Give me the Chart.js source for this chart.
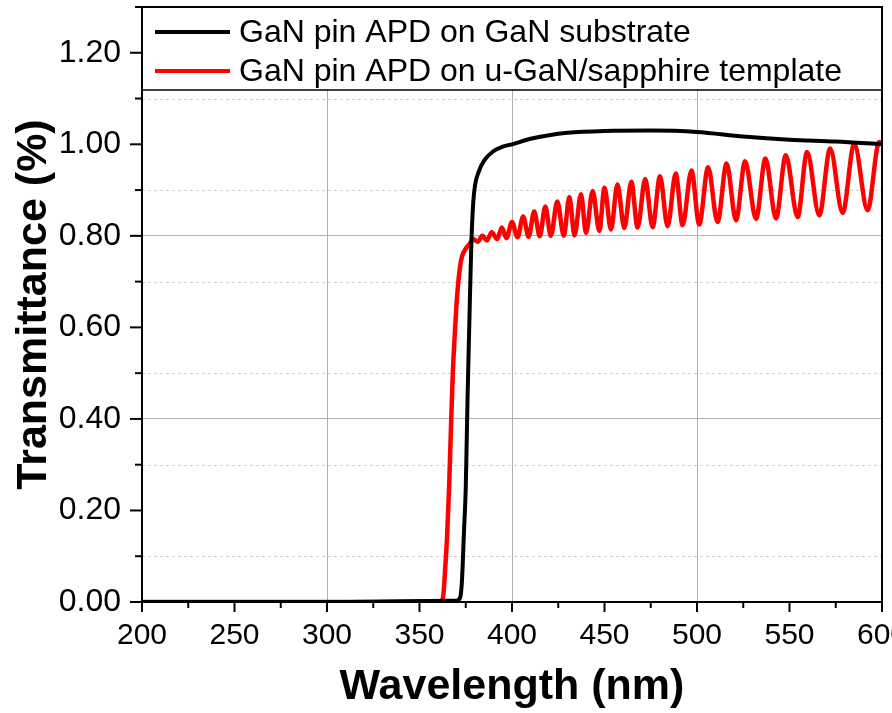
<!DOCTYPE html>
<html>
<head>
<meta charset="utf-8">
<script src="https://cdn.jsdelivr.net/npm/chart.js@4.4.1/dist/chart.umd.min.js"></script>
<style>
  html, body { margin: 0; padding: 0; background: #fff; overflow: hidden; }
  .wrap { position: relative; width: 892px; height: 713px; }
</style>
</head>
<body>
<div class="wrap"><canvas id="grafico"></canvas></div>
<script>
// series names / colours
const serieNomes = ["GaN pin APD on GaN substrate", "GaN pin APD on u-GaN/sapphire template"];
const serieCores = ["#000000", "#ff0000"];

// ticks (major labelled, minor empty)
const xTicks = [200, 225, 250, 275, 300, 325, 350, 375, 400, 425, 450, 475, 500, 525, 550, 575, 600];
const xRotulos = ["200", "", "250", "", "300", "", "350", "", "400", "", "450", "", "500", "", "550", "", "600"];
const yTicks = [0, 0.1, 0.2, 0.3, 0.4, 0.5, 0.6, 0.7, 0.8, 0.9, 1.0, 1.1, 1.2, 1.3];
const yRotulos = ["0.00", "", "0.20", "", "0.40", "", "0.60", "", "0.80", "", "1.00", "", "1.20", ""];

// GaN substrate (black)
const substratoX = [200, 300, 370, 372, 373, 374, 375, 376, 377, 378, 379, 380, 382, 385, 390, 395, 400,
  410, 420, 430, 450, 475, 500, 525, 550, 575, 600];
const substratoY = [0, 0, 0.003, 0.01, 0.05, 0.15, 0.25, 0.45, 0.62, 0.78, 0.87, 0.91, 0.94, 0.965, 0.985, 0.995, 1.0,
  1.012, 1.02, 1.025, 1.029, 1.03, 1.027, 1.017, 1.01, 1.006, 1.0];

// u-GaN / sapphire template (red) - edge, then fringe peaks and troughs
const templateX = [200, 300, 362, 363, 364, 365, 366, 367, 368, 369, 370, 371, 372, 373, 375, 377,
  379, 381.5, 384, 386.5, 389, 392, 394.5, 397, 400, 403, 406, 409, 412, 415, 418, 421, 424.5, 428,
  431, 433.8, 437.3, 440, 443.6, 447.2, 450, 453.5, 457, 460.7, 464.5, 467.9, 472, 476, 480, 484.1,
  488.5, 492.2, 497, 501.2, 506, 511.1, 516, 521.1, 526, 531.9, 537, 542.7, 548, 554.4, 559.5, 566.1,
  572, 578.7, 585, 592.2, 598.5, 600];
const templateY = [0, 0, 0.002, 0.02, 0.08, 0.15, 0.25, 0.38, 0.5, 0.58, 0.65, 0.7, 0.735, 0.755, 0.772, 0.782,
  0.793, 0.787, 0.8, 0.79, 0.808, 0.793, 0.818, 0.795, 0.83, 0.797, 0.842, 0.798, 0.853, 0.799, 0.864, 0.8, 0.875, 0.8,
  0.885, 0.801, 0.891, 0.806, 0.898, 0.811, 0.905, 0.814, 0.912, 0.817, 0.918, 0.818, 0.924, 0.819, 0.93, 0.821,
  0.936, 0.823, 0.943, 0.825, 0.95, 0.83, 0.958, 0.834, 0.963, 0.837, 0.969, 0.838, 0.976, 0.841, 0.983, 0.845,
  0.991, 0.85, 1.001, 0.856, 1.005, 1.0];

const fonte = "'Liberation Sans', Arial, sans-serif";

function pontos(xs, ys) {
  return xs.map((x, i) => ({ x, y: ys[i] }));
}

const moldura = {
  id: "moldura",
  beforeDatasetsDraw(chart) {
    const { ctx, chartArea: a, scales } = chart;
    ctx.save();
    ctx.strokeStyle = "#cfcfcf";
    ctx.lineWidth = 1;
    ctx.setLineDash([3, 3]);
    yTicks.forEach((v, i) => {
      if (yRotulos[i] || i === yTicks.length - 1) return;
      const y = Math.round(scales.y.getPixelForValue(v)) + 0.5;
      ctx.beginPath();
      ctx.moveTo(a.left, y);
      ctx.lineTo(a.right, y);
      ctx.stroke();
    });
    ctx.restore();
  },
  afterDraw(chart) {
    const { ctx, chartArea: a, scales } = chart;
    ctx.save();

    // legend box over the top of the plot
    const altura = 83;
    ctx.fillStyle = "#fff";
    ctx.fillRect(a.left, a.top, a.right - a.left, altura);
    ctx.strokeStyle = "#000";
    ctx.lineWidth = 1.5;
    ctx.strokeRect(a.left, a.top, a.right - a.left, altura);

    ctx.font = "32px " + fonte;
    ctx.textBaseline = "middle";
    ctx.textAlign = "left";
    serieNomes.forEach((nome, i) => {
      const y = a.top + 25 + i * 39;
      ctx.strokeStyle = serieCores[i];
      ctx.lineWidth = 4;
      ctx.beginPath();
      ctx.moveTo(a.left + 13, y);
      ctx.lineTo(a.left + 88, y);
      ctx.stroke();
      ctx.fillStyle = "#000";
      ctx.fillText(nome, a.left + 97, y + 1);
    });

    // frame
    ctx.strokeStyle = "#000";
    ctx.lineWidth = 2;
    ctx.strokeRect(a.left, a.top, a.right - a.left, a.bottom - a.top);

    // outward tick marks
    xTicks.forEach((v, i) => {
      const x = scales.x.getPixelForValue(v);
      const len = xRotulos[i] ? 10 : 6;
      ctx.beginPath();
      ctx.moveTo(x, a.bottom);
      ctx.lineTo(x, a.bottom + len);
      ctx.stroke();
    });
    yTicks.forEach((v, i) => {
      const y = scales.y.getPixelForValue(v);
      const len = yRotulos[i] ? 12 : 7;
      ctx.beginPath();
      ctx.moveTo(a.left, y);
      ctx.lineTo(a.left - len, y);
      ctx.stroke();
    });
    ctx.restore();
  }
};

new Chart(document.getElementById("grafico"), {
  type: "line",
  data: {
    datasets: [
      {
        label: serieNomes[0],
        data: pontos(substratoX, substratoY),
        borderColor: serieCores[0],
        borderWidth: 4,
        pointRadius: 0,
        cubicInterpolationMode: "monotone"
      },
      {
        label: serieNomes[1],
        data: pontos(templateX, templateY),
        borderColor: serieCores[1],
        borderWidth: 4.5,
        pointRadius: 0,
        cubicInterpolationMode: "monotone"
      }
    ]
  },
  options: {
    responsive: true,
    maintainAspectRatio: false,
    animation: false,
    layout: { padding: { top: 7, left: 0, right: 10, bottom: 0 } },
    plugins: { legend: { display: false }, tooltip: { enabled: false } },
    scales: {
      x: {
        type: "linear",
        min: 200,
        max: 600,
        afterBuildTicks: (s) => { s.ticks = xTicks.map((v) => ({ value: v })); },
        afterFit: (s) => { s.paddingLeft = 0; s.paddingRight = 0; s.height = 111; },
        border: { display: false },
        grid: {
          color: (c) => (c.index !== undefined && xRotulos[c.index] ? "#b0b0b0" : "transparent"),
          lineWidth: 1,
          tickLength: 10,
          tickColor: "transparent"
        },
        ticks: {
          autoSkip: false,
          maxRotation: 0,
          padding: 6,
          color: "#000",
          font: { family: fonte, size: 30 },
          callback: (v, i) => xRotulos[i] || null
        },
        title: {
          display: true,
          text: "Wavelength (nm)",
          color: "#000",
          font: { family: fonte, size: 43, weight: "bold" },
          padding: { top: 0, bottom: 0 }
        }
      },
      y: {
        type: "linear",
        min: 0,
        max: 1.3,
        afterBuildTicks: (s) => { s.ticks = yTicks.map((v) => ({ value: v })); },
        afterFit: (s) => { s.paddingTop = 0; s.paddingBottom = 0; s.width = 142; },
        border: { display: false },
        grid: {
          color: (c) => (c.index !== undefined && yRotulos[c.index] ? "#b0b0b0" : "transparent"),
          lineWidth: 1,
          tickLength: 12,
          tickColor: "transparent"
        },
        ticks: {
          autoSkip: false,
          padding: 9,
          color: "#000",
          font: { family: fonte, size: 32 },
          callback: (v, i) => yRotulos[i] || null
        },
        title: {
          display: true,
          text: "Transmittance (%)",
          color: "#000",
          font: { family: fonte, size: 43, weight: "bold" },
          padding: { top: 8, bottom: 0 }
        }
      }
    }
  },
  plugins: [moldura]
});
</script>
</body>
</html>
